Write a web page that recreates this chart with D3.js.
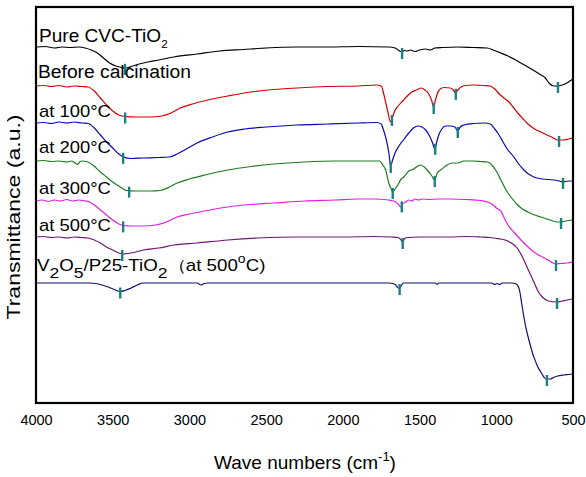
<!DOCTYPE html>
<html><head><meta charset="utf-8">
<script src="https://cdn.jsdelivr.net/npm/d3@7"></script>
<style>body{margin:0;background:#fff} svg{display:block} text{font-family:Arial,"Liberation Sans",sans-serif;fill:#000}</style>
</head><body><svg id="c" width="586" height="477"></svg>
<script>
// ---- data (wavenumber cm-1, transmittance a.u. with vertical offsets) ----
const waveTicks = [4000, 3500, 3000, 2500, 2000, 1500, 1000, 500];
const seriesNames = ["Pure CVC-TiO2", "Before calcination", "at 100°C", "at 200°C", "at 300°C", "at 500°C", "V2O5/P25-TiO2 (at 500°C)"];
const seriesColors = ["#000000", "#d40000", "#0a0ab0", "#1e7a1e", "#e020e0", "#6e1670", "#12126e"];

const pureCVC = [[4000,356],[3940,356.5],[3880,355],[3830,356],[3780,355.5],[3720,356],[3680,355],[3640,353],[3600,350],[3560,345],[3520,340],[3480,337],[3440,335.5],[3410,335],[3370,337],[3300,340],[3200,343],[3100,346],[2950,349],[2800,352],[2650,353.5],[2500,355],[2300,356],[2100,356],[1900,356.5],[1700,356],[1660,355],[1630,352],[1614,351],[1600,352.5],[1580,352],[1560,353],[1530,351.5],[1500,353],[1460,354],[1430,353],[1400,355],[1350,355.5],[1250,356],[1150,355.5],[1060,355],[1020,353],[970,350],[924,347],[885,344],[840,340],[794,336],[750,332],[709,328],[680,325],[657,320],[624,317],[600,317],[570,318],[540,320],[520,322],[500,324]];
const beforeCalc = [[4000,317],[3950,317.5],[3900,316.5],[3850,317.5],[3800,316],[3750,317],[3700,316.5],[3660,316],[3620,312],[3580,305],[3540,298],[3500,292],[3460,288],[3420,286.5],[3350,286],[3250,286],[3180,287],[3120,290],[3060,295],[2980,299],[2880,303],[2750,307],[2600,311],[2450,313.5],[2300,315],[2100,316.5],[1900,317],[1780,318],[1750,317],[1735,310],[1720,300],[1705,290],[1690,281],[1680,284],[1665,291],[1640,297],[1610,302],[1580,307],[1550,311],[1520,313],[1490,315],[1465,313],[1440,309],[1420,302],[1408,296],[1398,302],[1385,309],[1365,314],[1340,315.5],[1300,315],[1280,313],[1265,310],[1250,313],[1230,316],[1200,317.5],[1150,318],[1080,317.5],[1040,317],[1010,314],[980,309],[950,305],[924,302],[890,296],[860,290],[825,284],[794,279],[750,274],[709,271],[670,268],[640,266],[600,263],[560,263],[530,264],[500,265]];
const at100 = [[4000,280],[3950,280.5],[3900,279.5],[3850,281],[3800,280],[3750,281],[3700,280],[3660,279.5],[3620,275],[3580,268],[3540,261],[3500,255],[3460,249],[3430,246],[3380,244.5],[3300,245],[3200,245.5],[3130,246],[3080,249],[3020,254],[2950,260],[2850,266],[2750,271],[2640,274],[2500,276],[2300,278],[2100,279],[1900,280],[1780,280.5],[1750,279],[1735,273],[1715,262],[1700,250],[1688,237],[1678,242],[1660,250],[1630,258],[1600,264],[1570,270],[1540,275],[1510,277],[1485,276],[1460,273],[1435,267],[1415,260],[1400,254],[1390,260],[1375,268],[1355,274],[1330,277],[1300,277],[1270,276],[1251,272],[1235,276],[1210,278],[1150,279.5],[1080,280],[1040,279],[1010,274],[990,270],[960,262],[924,253],[885,246],[859,240],[820,233],[790,229],[755,226],[700,224],[624,223],[590,222],[565,221],[530,222],[500,222]];
const at200 = [[4000,242],[3950,242.5],[3900,241.5],[3850,242],[3800,241],[3770,242],[3745,240],[3730,238.5],[3715,241],[3700,242],[3670,241.5],[3630,238],[3580,231],[3540,226],[3500,221],[3450,216],[3410,212.5],[3350,212],[3250,212],[3190,212.5],[3130,216],[3080,220],[3000,224],[2900,228],[2750,233],[2600,236.5],[2450,239],[2250,241],[2050,242],[1850,242],[1760,242],[1740,238],[1721,233],[1701,220],[1685,214],[1675,211],[1660,214],[1642,218],[1620,224],[1603,226],[1570,232],[1538,234],[1510,237],[1492,238],[1470,236],[1445,232],[1420,227],[1401,223],[1385,230],[1362,233],[1330,237],[1290,240],[1251,240],[1212,242],[1150,242],[1100,241.5],[1055,241],[1030,238],[1000,232],[970,223],[940,214],[905,206],[860,198],[830,194],[794,191],[750,188],[709,186],[650,183],[600,181],[578,181],[550,182],[500,183]];
const at300 = [[4000,202],[3960,203],[3920,201.5],[3880,203],[3840,202],[3800,203.5],[3760,202],[3720,203],[3680,202],[3650,201],[3620,198],[3580,193],[3540,188],[3500,183],[3460,179],[3430,177.5],[3380,177],[3300,177],[3220,178],[3150,181],[3080,186],[3000,189],[2900,192],[2750,196],[2600,198.5],[2450,200],[2250,202],[2050,203],[1900,204],[1800,204],[1700,203],[1660,201.5],[1640,199],[1623,196],[1610,199],[1590,201],[1570,203],[1550,202],[1530,204],[1510,203],[1480,204],[1440,203.5],[1380,204],[1300,204],[1200,203.5],[1100,202.5],[1055,201],[1020,198],[1000,195],[970,192],[945,184],[924,178],[880,170],[839,163],[800,157],[755,151],[700,146],[663,143],[630,140],[611,139],[580,139.5],[540,140],[500,141]];
const at500 = [[4000,166],[3950,166.5],[3900,165.5],[3850,166],[3800,165],[3750,166],[3700,165.5],[3660,165],[3620,163],[3580,160],[3540,156],[3500,153],[3460,150],[3438,149],[3400,149.5],[3350,151],[3300,153],[3200,155],[3100,158],[2950,160],[2750,163],[2550,165],[2300,166],[2000,166],[1800,166.5],[1680,166],[1640,165.5],[1620,163],[1610,161],[1600,164],[1580,165.5],[1500,166],[1400,166],[1300,166],[1200,166.5],[1100,166],[1040,165.5],[1000,164.5],[970,164],[924,162],[859,154],[820,143],[794,134],[755,121],[729,112],[700,106],[660,102],[604,101],[570,102],[540,103],[500,104]];
const v2o5P25 = [[4000,120],[3800,120],[3650,120],[3610,119.5],[3570,118],[3530,116],[3490,113.5],[3451,111.5],[3420,112.5],[3380,115],[3340,118],[3300,120],[3100,120],[2950,120],[2925,118],[2905,119.5],[2880,120],[2700,120],[2400,120],[2100,120],[1900,120],[1700,120],[1665,119],[1645,116],[1632,114.5],[1620,117],[1605,120],[1500,120],[1395,120],[1385,118.5],[1375,120],[1200,120],[1030,120],[1010,118.5],[995,119.5],[980,118.5],[960,120],[900,120],[870,119],[855,116],[845,110],[835,100],[820,86],[805,74],[794,67],[775,56],[760,48],[740,40],[729,36],[710,31],[690,26],[676,24],[650,24],[620,26],[600,27],[560,28],[530,28.5],[500,29]];

const peakMarks = [
  [3420, 1614, 598],
  [3419, 1680, 1408, 1264, 591],
  [3432, 1688, 1398, 1251, 565],
  [3393, 1675, 1401, 578],
  [3432, 1616, 611],
  [3438, 1610, 604],
  [3451, 1630, 670]
];

const allSeries = [pureCVC, beforeCalc, at100, at200, at300, at500, v2o5P25];

// ---- chart ----
const svg = d3.select("#c");
const x = d3.scaleLinear().domain([4000, 500]).range([36, 573]);
const y = d3.scaleLinear().domain([0, 396]).range([403, 7]);

const line = d3.line().x(d => x(d[0])).y(d => y(d[1])).curve(d3.curveMonotoneX);

allSeries.forEach((s, i) => {
  svg.append("path").datum(s)
    .attr("fill", "none").attr("stroke", seriesColors[i])
    .attr("stroke-width", 1.2).attr("stroke-linejoin", "round")
    .attr("d", line);
});

function valAt(s, w) {
  for (let k = 0; k < s.length - 1; k++) {
    const a = s[k], b = s[k + 1];
    if ((w <= a[0] && w >= b[0])) {
      const t = (a[0] - w) / (a[0] - b[0]);
      return a[1] + t * (b[1] - a[1]);
    }
  }
  return s[s.length - 1][1];
}

peakMarks.forEach((ws, i) => {
  ws.forEach(w => {
    const py = y(valAt(allSeries[i], w));
    svg.append("line")
      .attr("x1", x(w)).attr("x2", x(w))
      .attr("y1", py - 4).attr("y2", py + 7)
      .attr("stroke", "#1d8080").attr("stroke-width", 2.4);
  });
});

// frame
svg.append("rect").attr("x", 36).attr("y", 7).attr("width", 537).attr("height", 396)
  .attr("fill", "none").attr("stroke", "#000").attr("stroke-width", 2.2);

// x axis
const xAxis = svg.append("g").attr("transform", "translate(0,403)")
  .call(d3.axisBottom(x).tickValues(waveTicks).tickSize(0).tickPadding(12).tickFormat(d3.format("d")));
xAxis.select(".domain").remove();
xAxis.selectAll("text").attr("font-size", 14.5).attr("font-family", "Arial, 'Liberation Sans', sans-serif").attr("fill", "#000");

// axis titles
const xt = svg.append("text").attr("x", 305).attr("y", 469).attr("text-anchor", "middle").attr("font-size", 19);
xt.append("tspan").text("Wave numbers (cm");
xt.append("tspan").attr("font-size", 13).attr("dy", -8).text("-1");
xt.append("tspan").attr("dy", 8).text(")");

svg.append("text").attr("transform", "translate(20,217) rotate(-90)")
  .attr("text-anchor", "middle").attr("font-size", 17.5)
  .attr("textLength", 205).attr("lengthAdjust", "spacingAndGlyphs")
  .text("Transmittance (a.u.)");

// series labels
const labelSegs = [
  [["Pure CVC-TiO", "n"], ["2", "sub"]],
  [["Before calcination", "n"]],
  [["at 100°C", "n"]],
  [["at 200°C", "n"]],
  [["at 300°C", "n"]],
  [["at 500°C", "n"]],
  [["V", "n"], ["2", "sub2"], ["O", "n"], ["5", "sub2"], ["/P25-TiO", "n"], ["2", "sub2"], ["\uFF08at 500", "n"], ["o", "sup"], ["C)", "n"]]
];
const labelPos = [[39, 42, 18, 1.06], [38, 78, 18, 1.07], [39, 117, 16, 1.15], [39, 153, 16, 1.15], [39, 194, 16, 1.15], [39, 231, 16, 1.15], [37, 271, 16, 1.17]];

labelSegs.forEach((segs, i) => {
  const [lx, ly, fs, sx] = labelPos[i];
  const t = svg.append("text").attr("transform", `translate(${lx},${ly}) scale(${sx},1)`).attr("font-size", fs);
  let off = 0;
  segs.forEach(([txt, kind]) => {
    let target = 0, size = fs;
    if (kind === "sub") { target = 6; size = 11; }
    if (kind === "sub2") { target = 7; size = 15; }
    if (kind === "sup") { target = -8; size = 12; }
    t.append("tspan").attr("dy", target - off).attr("font-size", size).text(txt);
    off = target;
  });
});
</script></body></html>
